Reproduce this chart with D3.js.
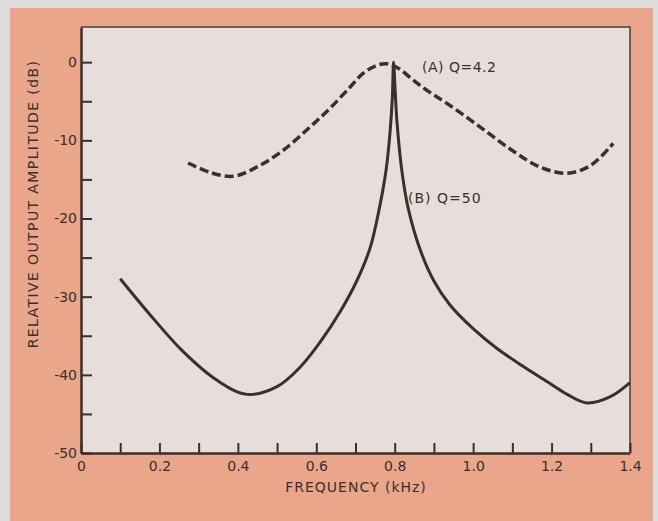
<!DOCTYPE html>
<html>
<head>
<meta charset="utf-8">
<script src="https://cdn.jsdelivr.net/npm/d3@7"></script>
<style>
  body { margin: 0; background: #dedcdb; }
  svg { display: block; }
  text { font-family: "DejaVu Sans", sans-serif; fill: #3a2f2c; }
</style>
</head>
<body>
<svg id="chart" width="658" height="521"></svg>
<script>
// Q=4.2 curve (dashed)
var freqA = [0.273, 0.329, 0.388, 0.449, 0.515, 0.584, 0.635, 0.686, 0.72, 0.755, 0.78, 0.81, 0.847, 0.885, 0.934, 1.018, 1.10, 1.17, 1.24, 1.30, 1.357];
var dbA = [-12.9, -14.1, -14.6, -13.4, -11.3, -8.3, -5.9, -3.2, -1.4, -0.4, -0.2, -0.8, -2.3, -3.7, -5.3, -8.3, -11.3, -13.4, -14.2, -13.2, -10.4];

// Q=50 curve (solid)
var freqB = [0.10, 0.176, 0.26, 0.347, 0.423, 0.50, 0.559, 0.61, 0.66, 0.704, 0.737, 0.76, 0.778, 0.788, 0.794, 0.797, 0.801, 0.806, 0.819, 0.834, 0.865, 0.90, 0.94, 1.0, 1.06, 1.13, 1.196, 1.24, 1.29, 1.35, 1.40];
var dbB = [-27.7, -32.3, -37.0, -40.7, -42.5, -41.5, -39.0, -35.8, -32.0, -27.9, -23.8, -18.9, -13.8, -9.0, -4.5, 0, -3.5, -7.8, -14.2, -18.6, -24.0, -28.0, -31.0, -34.1, -36.6, -39.0, -41.1, -42.5, -43.6, -42.8, -41.0];

var xTicks = [0, 0.1, 0.2, 0.3, 0.4, 0.5, 0.6, 0.7, 0.8, 0.9, 1.0, 1.1, 1.2, 1.3, 1.4];
var xLabels = ["0", "", "0.2", "", "0.4", "", "0.6", "", "0.8", "", "1.0", "", "1.2", "", "1.4"];
var yTicks = [0, -5, -10, -15, -20, -25, -30, -35, -40, -45, -50];
var yLabels = ["0", "", "-10", "", "-20", "", "-30", "", "-40", "", "-50"];

var svg = d3.select("#chart");

var xScale = d3.scaleLinear().domain([0, 1.4]).range([81, 630]);
var yScale = d3.scaleLinear().domain([-50, 4.5]).range([453, 27]);

// backgrounds
svg.append("rect").attr("x", 10).attr("y", 8).attr("width", 643).attr("height", 513).attr("fill", "#e9a68a");
svg.append("rect")
    .attr("x", xScale(0)).attr("y", yScale(4.5))
    .attr("width", xScale(1.4) - xScale(0)).attr("height", yScale(-50) - yScale(4.5))
    .attr("fill", "#e7dddb");

// top and right border
svg.append("path")
    .attr("d", "M" + xScale(0) + "," + yScale(4.5) + "H" + xScale(1.4) + "V" + yScale(-50))
    .attr("fill", "none").attr("stroke", "#4a3c37").attr("stroke-width", 1.5);

var xAxis = d3.axisBottom(xScale)
    .tickValues(xTicks)
    .tickSizeInner(-10).tickSizeOuter(0).tickPadding(8)
    .tickFormat(function(d, i) { return xLabels[i]; });

var yAxis = d3.axisLeft(yScale)
    .tickValues(yTicks)
    .tickSizeInner(-11).tickSizeOuter(0).tickPadding(4)
    .tickFormat(function(d, i) { return yLabels[i]; });

var gx = svg.append("g").attr("transform", "translate(0," + yScale(-50) + ")").call(xAxis);
var gy = svg.append("g").attr("transform", "translate(" + xScale(0) + ",0)").call(yAxis);

[gx, gy].forEach(function(g) {
    g.select(".domain").attr("stroke", "#3a2f2c").attr("stroke-width", 2.5);
    g.selectAll(".tick line").attr("stroke", "#3a2f2c").attr("stroke-width", 2);
    g.selectAll(".tick text").style("font-size", "14px").attr("fill", "#3a2f2c");
});

// axis titles
svg.append("text")
    .attr("x", 356).attr("y", 492)
    .attr("text-anchor", "middle")
    .style("font-size", "14px").style("letter-spacing", "1px")
    .text("FREQUENCY (kHz)");

svg.append("text")
    .attr("transform", "translate(38,204) rotate(-90)")
    .attr("text-anchor", "middle")
    .style("font-size", "14px").style("letter-spacing", "1.4px")
    .text("RELATIVE OUTPUT AMPLITUDE (dB)");

var line = d3.line()
    .x(function(d) { return xScale(d[0]); })
    .y(function(d) { return yScale(d[1]); })
    .curve(d3.curveCatmullRom.alpha(0.5));

svg.append("path")
    .datum(d3.zip(freqA, dbA))
    .attr("d", line)
    .attr("fill", "none").attr("stroke", "#3a2f2c")
    .attr("stroke-width", 3.5).attr("stroke-dasharray", "9,4");

svg.append("path")
    .datum(d3.zip(freqB, dbB))
    .attr("d", line)
    .attr("fill", "none").attr("stroke", "#3a2f2c")
    .attr("stroke-width", 3).attr("stroke-linejoin", "round");

// curve labels
svg.append("text")
    .attr("x", 422).attr("y", 72)
    .style("font-size", "14px").style("letter-spacing", "0.5px")
    .text("(A) Q=4.2");

svg.append("text")
    .attr("x", 408).attr("y", 203)
    .style("font-size", "14px").style("letter-spacing", "1px")
    .text("(B) Q=50");
</script>
</body>
</html>
